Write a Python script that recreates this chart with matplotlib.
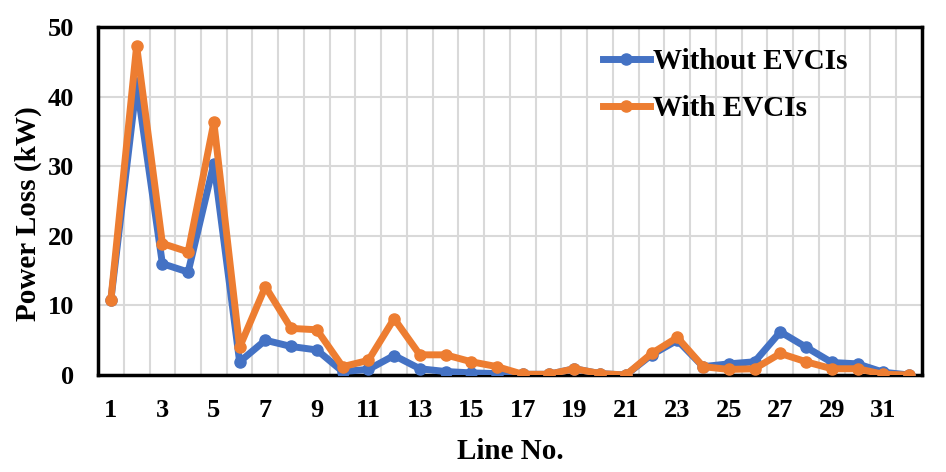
import matplotlib
matplotlib.use("Agg")
from matplotlib import pyplot as plt

lines = list(range(1, 33))
without_evci = [10.8, 41.9, 16.0, 14.8, 30.4, 1.9, 5.0, 4.1, 3.6, 0.5,
                0.8, 2.8, 0.9, 0.5, 0.3, 0.2, 0.1, 0.1, 0.9, 0.2,
                0.0, 2.9, 5.0, 1.2, 1.6, 1.9, 6.2, 4.0, 1.8, 1.6,
                0.4, 0.0]
with_evci = [10.8, 47.3, 18.9, 17.7, 36.3, 4.0, 12.7, 6.7, 6.5, 1.2,
             2.1, 8.1, 2.9, 2.9, 1.9, 1.2, 0.1, 0.1, 0.9, 0.2,
             0.0, 3.1, 5.4, 1.2, 0.8, 0.9, 3.1, 1.9, 0.9, 0.9,
             0.1, 0.0]
xtick_labels = [str(i) for i in range(1, 33, 2)]

plt.rcParams['font.family'] = ['Liberation Serif', 'DejaVu Serif']
plt.rcParams['font.weight'] = 'bold'

fig = plt.figure(figsize=(9.46, 4.72), dpi=100)
ax = fig.add_axes([0.1036, 0.2055, 0.871, 0.737])

ax.plot(lines, without_evci, color='#4472C4', lw=5, marker='o', ms=8,
        label='Without EVCIs', zorder=3, solid_joinstyle='round')
ax.plot(lines, with_evci, color='#ED7D31', lw=5, marker='o', ms=8,
        label='With EVCIs', zorder=4, solid_joinstyle='round')

ax.set_xlim(0.5, 32.5)
ax.set_ylim(0, 50)
ax.set_yticks([0, 10, 20, 30, 40, 50])
ax.set_xticks(range(1, 33, 2))
ax.set_xticklabels(xtick_labels)
ax.set_xticks([i + 0.5 for i in range(1, 32)], minor=True)
ax.tick_params(axis='both', which='both', length=0, labelsize=19)
ax.tick_params(axis='x', pad=17)
ax.tick_params(axis='y', pad=17)

ax.grid(True, axis='y', which='major', color='#d9d9d9', lw=1.5, zorder=0)
ax.grid(True, axis='x', which='minor', color='#d9d9d9', lw=1.5, zorder=0)
ax.set_axisbelow(True)

for s in ax.spines.values():
    s.set_linewidth(2.5)
    s.set_color('black')

ax.set_xlabel('Line No.', fontsize=21, fontweight='bold', labelpad=12)
ax.set_ylabel('Power Loss (kW)', fontsize=21, fontweight='bold')
ax.yaxis.set_label_coords(-0.068, 0.463)

ax.legend(loc='upper left', bbox_to_anchor=(0.613, 0.94), frameon=False,
          fontsize=21, handlelength=1.6, labelspacing=0.7, handletextpad=0.1,
          borderpad=0, borderaxespad=0)

fig.savefig('out.png', dpi=100)
